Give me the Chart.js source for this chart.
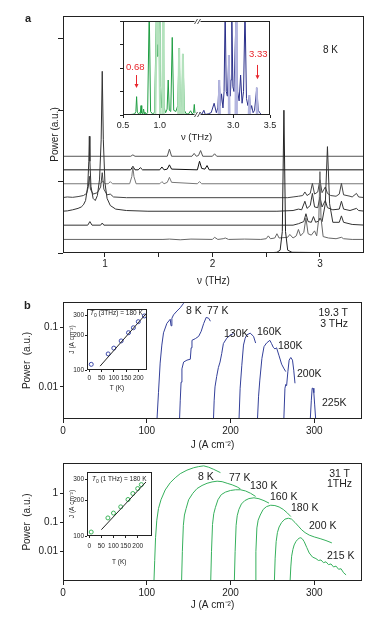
<!DOCTYPE html>
<html><head><meta charset="utf-8">
<script src="https://cdn.jsdelivr.net/npm/chart.js@4.4.0/dist/chart.umd.min.js"></script>
<style>
html,body{margin:0;padding:0;background:#fff;}
#wrap{position:relative;width:380px;height:625px;overflow:hidden;font-family:"Liberation Sans",Arial,sans-serif;color:#222;background:#fff;}
canvas{position:absolute;}
.t{position:absolute;white-space:nowrap;font-size:10px;line-height:1;}
.n{font-family:"Liberation Sans Narrow","Liberation Sans",Arial,sans-serif;font-size:10.5px;}
.r{color:#e8262d;font-size:9.5px;}
.s{font-family:"Liberation Sans Narrow","Liberation Sans",Arial,sans-serif;font-size:6.5px;}
</style></head><body><div id="wrap">
<canvas id="cA" width="380" height="290" style="left:0;top:0;width:380px;height:290px"></canvas>
<canvas id="cAi" width="200" height="133" style="left:90px;top:10px;width:200px;height:133px"></canvas>
<canvas id="cB1" width="380" height="161" style="left:0;top:290px;width:380px;height:161px"></canvas>
<canvas id="cB1i" width="94" height="95" style="left:62px;top:303px;width:94px;height:95px"></canvas>
<canvas id="cB2" width="380" height="160" style="left:0;top:451px;width:380px;height:160px"></canvas>
<canvas id="cB2i" width="98" height="101" style="left:62px;top:466px;width:98px;height:101px"></canvas>

<div class="t" style="left:25px;top:13px;font-weight:bold;font-size:11px">a</div>
<div class="t" style="left:323px;top:45px">8 K</div>
<div class="t r" style="left:126px;top:62px">0.68</div>
<div class="t r" style="left:249px;top:49px">3.33</div>

<div class="t" style="left:24px;top:300px;font-weight:bold;font-size:11px">b</div>
<div class="t n" style="left:186px;top:305px">8 K</div>
<div class="t n" style="left:207px;top:305px">77 K</div>
<div class="t n" style="left:224px;top:328px">130K</div>
<div class="t n" style="left:257px;top:326px">160K</div>
<div class="t n" style="left:278px;top:340px">180K</div>
<div class="t n" style="left:297px;top:368px">200K</div>
<div class="t n" style="left:322px;top:397px">225K</div>
<div class="t n" style="right:32px;top:307px">19.3 T</div>
<div class="t n" style="right:32px;top:318px">3 THz</div>
<div class="t s" style="left:90px;top:310px"><i>T</i><sub style="font-size:5px">0</sub> (3THz) = 180 K</div>

<div class="t n" style="left:198px;top:471px">8 K</div>
<div class="t n" style="left:229px;top:472px">77 K</div>
<div class="t n" style="left:250px;top:480px">130 K</div>
<div class="t n" style="left:270px;top:491px">160 K</div>
<div class="t n" style="left:291px;top:502px">180 K</div>
<div class="t n" style="left:309px;top:520px">200 K</div>
<div class="t n" style="left:327px;top:550px">215 K</div>
<div class="t n" style="right:30px;top:468px">31 T</div>
<div class="t n" style="right:28px;top:478px">1THz</div>
<div class="t s" style="left:92px;top:476px"><i>T</i><sub style="font-size:5px">0</sub> (1 THz) = 180 K</div>
</div>
<script>
// ---------- Panel a : stacked spectra (nu in THz, relative power) ----------
const traceA0 = [[0.6,0],[2.5,0],[2.6,0.01],[2.63,0.04],[2.65,0.3],[2.665,2.0],[2.68,0.3],[2.7,0.04],[2.74,0.01],[3.42,0]];
const traceA1 = [[0.6,0],[1.54,0],[1.6,0.005],[1.7,-0.005],[1.8,0.005],[2.0,0],[2.02,0.03],[2.05,0],[2.1,0.01],[2.12,0.02],[2.15,0],[2.3,0.005],[2.45,0],[2.5,0.01],[2.52,0.05],[2.54,0.01],[2.58,0.02],[2.6,0.08],[2.62,0.02],[2.7,0.03],[2.72,0.07],[2.75,0.02],[2.78,0.05],[2.8,0.14],[2.82,0.05],[2.85,0.1],[2.87,0.3],[2.89,0.08],[2.92,0.06],[2.95,0.12],[2.97,0.05],[2.99,0.3],[3.0,0.95],[3.01,0.3],[3.03,0.04],[3.08,0.02],[3.15,0.01],[3.2,0.03],[3.22,0.01],[3.3,0],[3.42,0]];
const traceA2 = [[0.6,0],[0.84,0],[0.86,0.05],[0.88,0],[0.96,0],[0.975,0.03],[0.99,0],[2.75,0],[2.8,0.02],[2.85,0.05],[2.87,0.16],[2.89,0.05],[2.92,0.04],[2.94,0.12],[2.96,0.04],[2.99,0.06],[3.0,0.1],[3.02,0.05],[3.05,0.3],[3.07,1.1],[3.09,0.3],[3.12,0.04],[3.18,0.04],[3.2,0.13],[3.22,0.04],[3.3,0.01],[3.42,0]];
const traceA3 = [[0.6,0],[0.65,0.005],[0.7,0.02],[0.75,0.04],[0.78,0.06],[0.8,0.09],[0.82,0.15],[0.84,0.35],[0.85,0.7],[0.855,1.05],[0.86,0.7],[0.87,0.35],[0.89,0.18],[0.91,0.15],[0.93,0.22],[0.95,0.45],[0.965,1.0],[0.975,1.96],[0.985,1.0],[1.0,0.4],[1.02,0.18],[1.05,0.08],[1.1,0.03],[1.2,0.01],[1.4,0],[2.6,0],[2.75,0.01],[2.8,0.03],[2.83,0.02],[2.86,0.14],[2.88,0.04],[2.91,0.08],[2.93,0.25],[2.95,0.06],[2.98,0.05],[3.0,0.2],[3.02,0.06],[3.05,0.15],[3.07,0.05],[3.12,0.02],[3.18,0.03],[3.2,0.14],[3.22,0.03],[3.28,0.01],[3.34,0.04],[3.36,0.01],[3.42,0]];
const traceA4 = [[0.6,0],[0.65,0.01],[0.7,0.005],[0.75,0.015],[0.8,0.03],[0.83,0.06],[0.845,0.15],[0.855,0.3],[0.865,0.12],[0.89,0.05],[0.93,0.07],[0.96,0.15],[0.975,0.35],[0.99,0.12],[1.02,0.04],[1.05,0.05],[1.08,0.01],[1.2,0],[2.7,0],[2.75,0.01],[2.8,0.02],[2.84,0.03],[2.86,0.08],[2.88,0.03],[2.91,0.06],[2.93,0.2],[2.95,0.05],[2.98,0.08],[3.0,0.25],[3.02,0.07],[3.05,0.15],[3.07,0.06],[3.1,0.03],[3.15,0.02],[3.18,0.05],[3.2,0.2],[3.22,0.04],[3.28,0.02],[3.3,0.01],[3.34,0.06],[3.36,0.01],[3.42,0]];
const traceA5 = [[0.6,0],[0.96,0],[0.98,0.04],[1.0,0],[1.03,0],[1.05,0.03],[1.07,0],[1.23,0],[1.25,0.1],[1.26,0.24],[1.27,0.1],[1.29,0],[1.51,0],[1.53,0.03],[1.55,0],[1.58,0.02],[1.6,0.09],[1.62,0.02],[1.86,0],[1.88,0.03],[1.9,0],[3.42,0]];
const traceA6 = [[0.6,0],[1.24,0],[1.26,0.05],[1.28,0],[1.31,0],[1.33,0.03],[1.35,0],[1.51,0],[1.53,0.04],[1.55,0],[1.58,0.01],[1.6,0.07],[1.62,0.01],[1.86,0],[1.88,0.12],[1.9,0.02],[1.93,0.01],[1.95,0.06],[1.97,0],[3.42,0]];
const traceA7 = [[0.6,0],[1.24,0],[1.26,0.02],[1.28,0],[1.58,0],[1.6,0.1],[1.62,0],[1.81,0],[1.83,0.04],[1.85,0],[1.87,0.01],[1.89,0.08],[1.91,0],[2.0,0],[2.02,0.035],[2.04,0],[3.42,0]];
const tracesA = [traceA0, traceA1, traceA2, traceA3, traceA4, traceA5, traceA6, traceA7];
const traceOffsets = [0, 0.19, 0.39, 0.585, 0.775, 0.97, 1.165, 1.355];
const traceColors = ['#222','#666','#333','#333','#444','#777','#111','#555'];
const xTickValuesA = [1, 1.5, 2, 2.5, 3];
const xTickLabelsA = ['1', '', '2', '', '3'];
const yTickValuesA = [0, 1, 2, 3];

// ---------- Panel a inset (green 0.5-1.5 THz, blue 2.5-3.5 THz) ----------
const insetGreen = [[0.58,0.01],[0.63,0.03],[0.66,0.05],[0.675,0.15],[0.685,0.78],[0.695,0.12],[0.71,0.05],[0.725,0.1],[0.735,0.05],[0.745,0.4],[0.755,0.08],[0.77,0.05],[0.78,0.25],[0.79,0.05],[0.8,0.12],[0.815,0.03],[0.835,0.1],[0.857,4.5],[0.875,0.15],[0.9,0.05],[0.93,0.1],[0.955,4.5],[0.965,2.5],[0.975,4.5],[0.99,4.5],[1.0,1.2],[1.02,0.3],[1.035,1.2],[1.046,4.5],[1.06,0.3],[1.08,0.1],[1.1,0.25],[1.115,1.49],[1.13,0.2],[1.15,0.15],[1.17,3.3],[1.19,0.2],[1.22,0.15],[1.245,0.4],[1.264,2.84],[1.28,0.25],[1.3,0.3],[1.315,2.6],[1.335,0.2],[1.36,0.05],[1.39,0.04],[1.42,0.18],[1.44,0.05],[1.46,0.1],[1.47,0.45],[1.48,0.05],[1.5,0.01]];
const insetGreenLight = [[0.94,0],[0.962,4.5],[0.975,3],[0.985,4.5],[1.005,0],[1.005,null],[1.035,0],[1.046,4.5],[1.055,0],[1.055,null],[1.25,0],[1.264,2.84],[1.278,0],[1.278,null],[1.302,0],[1.315,2.6],[1.328,0]];
const insetBlue = [[2.5,0],[2.52,0.03],[2.55,0.1],[2.57,0.02],[2.6,0.2],[2.62,0.02],[2.66,0.05],[2.7,0.1],[2.74,0.5],[2.77,0.1],[2.79,0.3],[2.81,1.49],[2.825,0.4],[2.84,0.9],[2.86,0.3],[2.875,1.0],[2.89,4.5],[2.905,1.0],[2.92,0.8],[2.94,2.55],[2.96,0.8],[2.97,1.5],[2.98,4.5],[2.995,1.2],[3.01,1.0],[3.04,4.5],[3.06,1.0],[3.08,0.6],[3.1,1.7],[3.12,0.5],[3.14,1.0],[3.16,4.5],[3.18,0.7],[3.2,0.4],[3.22,0.85],[3.235,0.2],[3.25,0.4],[3.27,0.1],[3.29,0.2],[3.32,1.16],[3.34,0.2],[3.36,0.1],[3.38,0.02],[3.4,0]];
const insetBlueLight = [[2.8,0],[2.81,1.49],[2.82,0],[2.82,null],[2.93,0],[2.94,2.55],[2.95,0],[2.95,null],[3.03,0],[3.04,4.5],[3.05,0],[3.05,null],[3.21,0],[3.22,0.85],[3.23,0],[3.23,null],[3.31,0],[3.32,1.16],[3.33,0]];
const insetGap = 1.0;          // blue part drawn after the axis break (3.0 THz sits at 2.0)
const insetBreakAt = 1.5;
const xTickValuesAi = [0.5, 1.0, 2.0, 2.5];
const xTickLabelsAi = ['0.5', '1.0', '3.0', '3.5'];
const yTickValuesAi = [0, 1, 2, 3, 4];
const arrowNu = [0.68, 3.32];
const arrowFrom = [1.7, 2.13];
const arrowTo = [1.15, 1.52];

// ---------- Panel b, 19.3 T / 3 THz (J in A cm^-2, power a.u.) ----------
const top8K_J = [112,114,116,118,120,124,128,129,130,132,136,140,144,146];
const top8K_P = [0.0025,0.008,0.025,0.05,0.08,0.115,0.135,0.105,0.14,0.16,0.185,0.21,0.25,0.28];
const top77K_J = [139,140,141,142,144,148,152,153,154,158,162,165,168,171,174,176];
const top77K_P = [0.0025,0.006,0.012,0.02,0.026,0.028,0.029,0.045,0.06,0.064,0.07,0.085,0.115,0.145,0.14,0.125];
const top130K_J = [179.5,180.5,181.5,183.5,185.5,187.5,189.5,191.5,195.5,199.5,203.5];
const top130K_P = [0.0025,0.006,0.01,0.015,0.021,0.026,0.036,0.053,0.065,0.073,0.078];
const top160K_J = [210,211.5,213.5,215.5,217.5,219.5,223.5,227.5,230];
const top160K_P = [0.0025,0.0095,0.023,0.05,0.065,0.074,0.079,0.07,0.054];
const top180K_J = [232,233.5,235,237.5,240,243,247,249,251,253,255,258,261,264,266];
const top180K_P = [0.0025,0.007,0.013,0.03,0.047,0.054,0.06,0.053,0.046,0.043,0.045,0.033,0.024,0.02,0.018];
const top200K_J = [263.5,265,266,267,268.5,270,272,274,275.5,277];
const top200K_P = [0.0025,0.0095,0.011,0.0105,0.018,0.028,0.031,0.028,0.019,0.0115];
const top225K_J = [295,296.5,297.5,298.5,299.5,300.5,302];
const top225K_P = [0.0025,0.006,0.0095,0.0095,0.008,0.005,0.0025];
const insetTopT = [8,77,100,130,160,180,200,225];
const insetTopJ = [112,138,155,179,211,233,263,295];
const fitTopT = [44,234];
const fitTopJ = [108,312];

// ---------- Panel b, 31 T / 1 THz ----------
const bot8K_J = [108.5,109.5,110.5,112,114,117,122,128,134,140,148,156,162,168,174,180,188];
const bot8K_P = [0.0008,0.005,0.03,0.12,0.3,0.6,1.3,2.3,3.4,4.7,6.2,7.5,8.2,8.7,7.8,6.6,5.1];
const bot77K_J = [141.5,142.5,143.7,145,147,150,155,160,166,172,178,184,190,196,202,208,212];
const bot77K_P = [0.0008,0.01,0.08,0.18,0.3,0.6,1.0,1.45,1.85,2.2,2.45,2.6,2.5,2.2,1.95,1.65,1.4];
const bot130K_J = [176.3,177.3,178.5,180,182,185,189,194,200,206,212,218,224,230];
const bot130K_P = [0.0008,0.01,0.085,0.2,0.33,0.6,0.9,1.1,1.25,1.32,1.32,1.2,1.0,0.78];
const bot160K_J = [204.5,205.5,206.7,208,210,213,217,222,228,234,240,246];
const bot160K_P = [0.0008,0.01,0.08,0.17,0.28,0.43,0.56,0.66,0.7,0.65,0.56,0.46];
const bot180K_J = [229.3,230.3,231.5,233,235.5,239,243,248,253,258,263,268,272];
const bot180K_P = [0.0008,0.01,0.065,0.12,0.18,0.28,0.35,0.39,0.38,0.34,0.28,0.21,0.16];
const bot200K_J = [252.3,253.3,254.5,256,258,261,265,269,273,277,281,285,289,294,300,307,314,321];
const bot200K_P = [0.0008,0.006,0.022,0.045,0.07,0.1,0.13,0.14,0.13,0.1,0.075,0.056,0.045,0.037,0.032,0.028,0.024,0.02];
const bot215K_J = [271,272,273,274.5,276,278,280,282,284,286,288,291,294,298,302,305,308,311,314,317,320,323,326,329,332,335,338];
const bot215K_P = [0.0008,0.003,0.007,0.012,0.017,0.022,0.026,0.029,0.03,0.027,0.022,0.014,0.009,0.0065,0.0058,0.005,0.0052,0.0042,0.0045,0.0036,0.0038,0.003,0.0032,0.0025,0.0026,0.0019,0.0016];
const insetBotT = [8,77,100,130,160,180,200,215];
const insetBotJ = [108,142,156,176,203,228,251,271];
const fitBotT = [50,234];
const fitBotJ = [113,285];

const xTickValuesB = [0, 100, 200, 300];
const yTickValuesB1 = [0.01, 0.1];
const yTickLabelsB1 = ['0.01', '0.1'];
const yTickValuesB2 = [0.01, 0.1, 1];
const yTickLabelsB2 = ['0.01', '0.1', '1'];
const xTickValuesBi = [0, 50, 100, 150, 200];
const yTickValuesBi = [100, 200, 300];

// ---------- helpers ----------
const REG = '"Liberation Sans", Arial, sans-serif';
const NAR = '"Liberation Sans Narrow", "Liberation Sans", Arial, sans-serif';
const INK = '#222';
Chart.defaults.font.family = REG;
Chart.defaults.font.size = 10;
Chart.defaults.color = INK;
const zip = (xs, ys) => xs.map((x, i) => ({x, y: ys[i]}));
const pairs = (arr, dx = 0, dy = 0) => arr.map(([x, y]) => ({x: x - dx, y: y === null ? null : y + dy}));
const setTicks = vals => s => { s.ticks = vals.map(v => ({value: v})); };
const line = (data, color, w = 1) => ({data, borderColor: color, borderWidth: w, pointRadius: 0, tension: 0, fill: false, spanGaps: false});

const framePlugin = {
  id: 'frame',
  afterDatasetsDraw(chart) {
    const {ctx, chartArea: a} = chart;
    ctx.save();
    ctx.strokeStyle = INK; ctx.lineWidth = 1;
    ctx.strokeRect(Math.round(a.left) + 0.5, Math.round(a.top) + 0.5, Math.round(a.right - a.left) - 1, Math.round(a.bottom - a.top) - 1);
    ctx.restore();
  }
};

function axis(o) {
  return {
    type: o.type || 'linear', min: o.min, max: o.max,
    afterFit: o.fit,
    afterBuildTicks: setTicks(o.ticks),
    ticks: {autoSkip: false, maxRotation: 0, padding: o.pad ?? 2, callback: o.labels ? ((v, i) => o.labels[i]) : ((v) => String(v)), font: {size: o.fs || 10, family: o.ff || REG}},
    grid: {drawOnChartArea: false, drawTicks: true, tickLength: o.tl ?? 4, color: INK, lineWidth: 1},
    border: {display: false},
    title: o.title ? {display: true, text: o.title, padding: o.tpad, font: {size: o.tfs || 10, family: o.tff || REG}, color: INK} : {display: false}
  };
}
function baseOptions(padding, x, y) {
  return {
    responsive: false, animation: false, devicePixelRatio: 1,
    layout: {padding},
    plugins: {legend: {display: false}, tooltip: {enabled: false}},
    scales: {x, y}
  };
}

// ---------- Panel a main ----------
new Chart(document.getElementById('cA'), {
  type: 'line',
  data: {datasets: tracesA.map((t, i) => line(pairs(t, 0, traceOffsets[i]), traceColors[i], 1))},
  options: baseOptions({top: 16, right: 16, left: 0, bottom: 0},
    axis({min: 0.61, max: 3.41, fit: s => { s.height = 37; }, ticks: xTickValuesA, labels: xTickLabelsA, pad: 1, tl: 4,
          title: 'ν (THz)', tpad: {top: 0, bottom: 3}}),
    axis({min: 0, max: 3.32, fit: s => { s.width = 63; }, ticks: yTickValuesA, labels: yTickValuesA.map(() => ''), tl: 5,
          title: 'Power (a.u.)', tpad: {top: 49, bottom: 0}})),
  plugins: [framePlugin]
});

// ---------- Panel a inset ----------
const insetDecor = {
  id: 'insetDecor',
  afterDraw(chart) {
    const {ctx, chartArea: a, scales: {x, y}} = chart;
    const bx = Math.round(x.getPixelForValue(insetBreakAt)) + 0.5;
    ctx.save();
    [a.top + 0.5, a.bottom - 0.5].forEach(yy => {
      ctx.fillStyle = '#fff'; ctx.fillRect(bx - 3, yy - 1.5, 6, 3);
      ctx.strokeStyle = INK; ctx.lineWidth = 0.8;
      [-1.5, 1.5].forEach(dx => { ctx.beginPath(); ctx.moveTo(bx + dx - 1.5, yy + 2.5); ctx.lineTo(bx + dx + 1.5, yy - 2.5); ctx.stroke(); });
    });
    ctx.strokeStyle = '#e8262d'; ctx.fillStyle = '#e8262d'; ctx.lineWidth = 1;
    arrowNu.forEach((nu, i) => {
      const px = Math.round(x.getPixelForValue(nu > 2 ? nu - insetGap : nu)) + 0.5;
      const y0 = y.getPixelForValue(arrowFrom[i]), y1 = y.getPixelForValue(arrowTo[i]);
      ctx.beginPath(); ctx.moveTo(px, y0); ctx.lineTo(px, y1 - 3); ctx.stroke();
      ctx.beginPath(); ctx.moveTo(px - 2, y1 - 4); ctx.lineTo(px + 2, y1 - 4); ctx.lineTo(px, y1); ctx.closePath(); ctx.fill();
    });
    ctx.restore();
  }
};
new Chart(document.getElementById('cAi'), {
  type: 'line',
  data: {datasets: [
    line(pairs(insetGreenLight), '#b4e2bd', 2),
    line(pairs(insetGreen), '#1f9e42', 1),
    line(pairs(insetBlueLight, insetGap), '#b3b5df', 2),
    line(pairs(insetBlue, insetGap), '#2a2f8a', 1)
  ]},
  options: baseOptions({top: 11, right: 20, left: 0, bottom: 0},
    axis({min: 0.5, max: 2.5, fit: s => { s.height = 28; }, ticks: xTickValuesAi, labels: xTickLabelsAi, pad: 2, tl: 3, fs: 9,
          title: 'ν (THz)', tpad: {top: 0, bottom: 0}, tfs: 9.5}),
    axis({min: 0, max: 4, fit: s => { s.width = 33; }, ticks: yTickValuesAi, labels: yTickValuesAi.map(() => ''), tl: 3})),
  plugins: [framePlugin, insetDecor]
});

// ---------- Panel b top ----------
const BLUE = '#34409a';
const topCurves = [[top8K_J, top8K_P],[top77K_J, top77K_P],[top130K_J, top130K_P],[top160K_J, top160K_P],[top180K_J, top180K_P],[top200K_J, top200K_P],[top225K_J, top225K_P]];
new Chart(document.getElementById('cB1'), {
  type: 'line',
  data: {datasets: topCurves.map(([j, p]) => line(zip(j, p), BLUE, 1))},
  options: baseOptions({top: 12, right: 18, left: 0, bottom: 0},
    axis({min: 0, max: 357, fit: s => { s.height = 32; }, ticks: xTickValuesB, pad: 2, tl: 4,
          title: 'J (A cm⁻²)', tpad: {top: 0, bottom: 0}, tff: NAR}),
    axis({type: 'logarithmic', min: 0.00291, max: 0.262, fit: s => { s.width = 63; }, ticks: yTickValuesB1, labels: yTickLabelsB1, pad: 2, tl: 3,
          title: 'Power  (a.u.)', tpad: {top: 21, bottom: 0}, tff: NAR})),
  plugins: [framePlugin]
});
new Chart(document.getElementById('cB1i'), {
  type: 'line',
  data: {datasets: [
    line(zip(fitTopT, fitTopJ), INK, 1),
    {data: zip(insetTopT, insetTopJ), showLine: false, pointRadius: 2, pointBorderColor: '#3a46a8', pointBackgroundColor: 'rgba(0,0,0,0)', pointBorderWidth: 1}
  ]},
  options: baseOptions({top: 6, right: 9, left: 0, bottom: 0},
    axis({min: -9.4, max: 235.5, fit: s => { s.height = 28; }, ticks: xTickValuesBi, pad: 2, tl: 2, fs: 6.5, ff: NAR,
          title: 'T (K)', tpad: {top: 0, bottom: 6}, tfs: 6.5, tff: NAR}),
    axis({type: 'logarithmic', min: 100, max: 339, fit: s => { s.width = 25; }, ticks: yTickValuesBi, pad: 1, tl: 2, fs: 6.5, ff: NAR,
          title: 'J (A cm⁻²)', tpad: {top: 6, bottom: 0}, tfs: 6.5, tff: NAR})),
  plugins: [framePlugin]
});

// ---------- Panel b bottom ----------
const GREEN = '#36b05c';
const botCurves = [[bot8K_J, bot8K_P],[bot77K_J, bot77K_P],[bot130K_J, bot130K_P],[bot160K_J, bot160K_P],[bot180K_J, bot180K_P],[bot200K_J, bot200K_P],[bot215K_J, bot215K_P]];
new Chart(document.getElementById('cB2'), {
  type: 'line',
  data: {datasets: botCurves.map(([j, p]) => line(zip(j, p), GREEN, 1))},
  options: baseOptions({top: 12, right: 18, left: 0, bottom: 0},
    axis({min: 0, max: 357, fit: s => { s.height = 30; }, ticks: xTickValuesB, pad: 2, tl: 4,
          title: 'J (A cm⁻²)', tpad: {top: 0, bottom: 0}, tff: NAR}),
    axis({type: 'logarithmic', min: 0.00099, max: 10.9, fit: s => { s.width = 63; }, ticks: yTickValuesB2, labels: yTickLabelsB2, pad: 2, tl: 3,
          title: 'Power  (a.u.)', tpad: {top: 21, bottom: 0}, tff: NAR})),
  plugins: [framePlugin]
});
new Chart(document.getElementById('cB2i'), {
  type: 'line',
  data: {datasets: [
    line(zip(fitBotT, fitBotJ), INK, 1),
    {data: zip(insetBotT, insetBotJ), showLine: false, pointRadius: 2, pointBorderColor: '#3cb45a', pointBackgroundColor: 'rgba(0,0,0,0)', pointBorderWidth: 1}
  ]},
  options: baseOptions({top: 6, right: 8.5, left: 0, bottom: 0},
    axis({min: -9.3, max: 257, fit: s => { s.height = 31; }, ticks: xTickValuesBi, pad: 4, tl: 2, fs: 6.5, ff: NAR,
          title: 'T (K)', tpad: {top: 0, bottom: 1}, tfs: 6.5, tff: NAR}),
    axis({type: 'logarithmic', min: 100, max: 346, fit: s => { s.width = 25; }, ticks: yTickValuesBi, pad: 1, tl: 2, fs: 6.5, ff: NAR,
          title: 'J (A cm⁻²)', tpad: {top: 6, bottom: 0}, tfs: 6.5, tff: NAR})),
  plugins: [framePlugin]
});
</script>
</body></html>
